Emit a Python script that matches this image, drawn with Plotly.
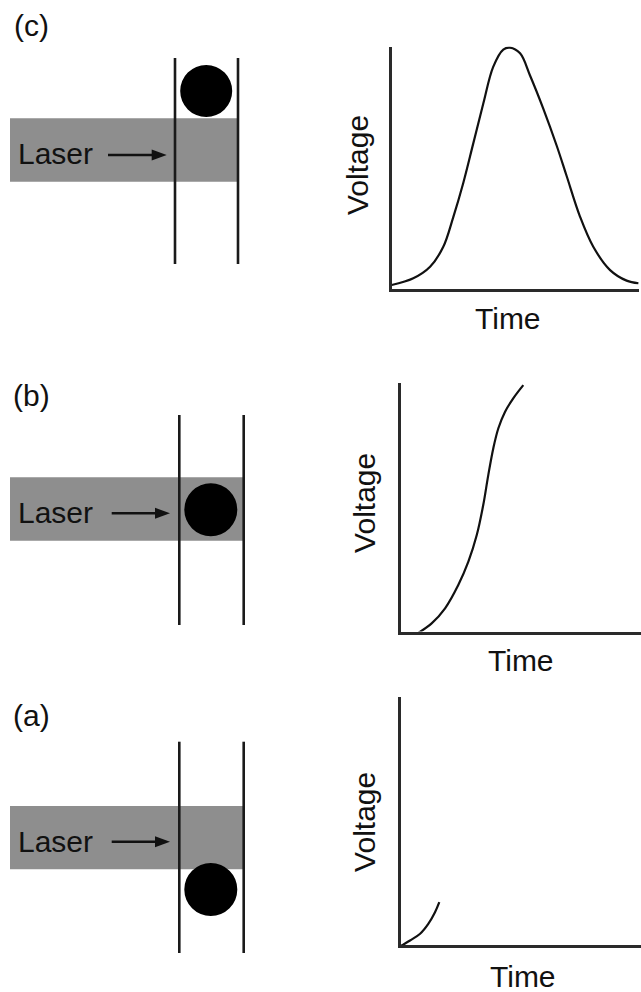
import plotly.graph_objects as go

# ---------------- data ----------------
panel_labels = ["(c)", "(b)", "(a)"]
axis_x_label = "Time"
axis_y_label = "Voltage"
beam_label = "Laser"

# (c) full pulse
c_time = [0.07, 0.97, 1.67, 2.22, 2.64, 3.05, 3.47, 3.89, 4.30, 4.72, 5.00,
          5.42, 5.83, 6.39, 6.95, 7.36, 7.92, 8.47, 9.17, 9.86, 10.35]
c_volt = [0.21, 0.49, 0.97, 1.80, 3.05, 4.45, 6.11, 7.78, 9.30, 10.02, 10.10,
          9.86, 8.95, 7.55, 6.00, 4.75, 3.05, 1.80, 0.83, 0.39, 0.28]
# (b) rising edge
b_time = [0.80, 1.36, 1.92, 2.47, 2.89, 3.24, 3.51, 3.72, 3.93, 4.14, 4.42, 4.76, 5.18]
b_volt = [0.00, 0.40, 1.03, 2.00, 2.97, 4.08, 5.33, 6.58, 7.70, 8.53, 9.22, 9.78, 10.33]
# (a) onset
a_time = [0.05, 0.11, 0.46, 0.88, 1.22, 1.50, 1.68]
a_volt = [0.00, 0.04, 0.25, 0.53, 0.94, 1.43, 1.85]

# ---------------- layout geometry (pixels) ----------------
W, H = 641, 992
UNIT = 24.0  # pixels per data unit
AXW = 3

def px(x):
    return x / W

def py(y):
    return 1 - y / H

charts = [
    dict(left=390, right=639, bottom=290, top=46.5, t=c_time, v=c_volt),
    dict(left=399, right=641, bottom=633, top=383, t=b_time, v=b_volt),
    dict(left=399, right=641, bottom=946.5, top=697, t=a_time, v=a_volt),
]

diagrams = [
    dict(label_xy=(31, 25.5), band=(10, 237, 118.3, 181.7), lines=(175, 238), line_y=(58, 264),
         ball=(206.2, 91, 26), text_y=153.3, arrow=(108, 166.7, 155),
         vlab=(358, 165), tlab=(508.3, 318.8)),
    dict(label_xy=(31, 395), band=(10, 243, 477.3, 540.7), lines=(179.3, 243.7), line_y=(415, 625),
         ball=(210.8, 509.7, 26.5), text_y=512.5, arrow=(111.7, 170, 513.3),
         vlab=(364.4, 502.5), tlab=(520.7, 660)),
    dict(label_xy=(31, 715.5), band=(10, 243, 806, 869.3), lines=(179.3, 243.7), line_y=(741.7, 953),
         ball=(210.8, 889.5, 26.5), text_y=841.3, arrow=(111.7, 170, 841.7),
         vlab=(364.4, 821.5), tlab=(522.5, 976.5)),
]

FONT = "Liberation Sans, Arial, Helvetica, sans-serif"
INK = "#111111"
BAND = "#8e8e8e"

fig = go.Figure()
layout = dict(width=W, height=H, margin=dict(l=0, r=0, t=0, b=0),
              paper_bgcolor="white", plot_bgcolor="rgba(0,0,0,0)", showlegend=False)

shapes = []
annotations = []

for i, (ch, dg, lab) in enumerate(zip(charts, diagrams, panel_labels)):
    n = i + 1
    xa = "xaxis" if n == 1 else f"xaxis{n}"
    ya = "yaxis" if n == 1 else f"yaxis{n}"
    xr = "x" if n == 1 else f"x{n}"
    yr = "y" if n == 1 else f"y{n}"
    off = AXW / 2
    layout[xa] = dict(domain=[px(ch["left"] + off), px(ch["right"])],
                      range=[off / UNIT, (ch["right"] - ch["left"]) / UNIT],
                      anchor=yr, showline=True, linewidth=AXW, linecolor="#2a2a2a",
                      showgrid=False, zeroline=False, showticklabels=False, ticks="")
    layout[ya] = dict(domain=[py(ch["bottom"] - off), py(ch["top"])],
                      range=[off / UNIT, (ch["bottom"] - ch["top"]) / UNIT],
                      anchor=xr, showline=True, linewidth=AXW, linecolor="#2a2a2a",
                      showgrid=False, zeroline=False, showticklabels=False, ticks="")
    fig.add_trace(go.Scatter(x=ch["t"], y=ch["v"], mode="lines", xaxis=xr, yaxis=yr,
                             line=dict(color=INK, width=2.2, shape="spline", smoothing=1.0),
                             hoverinfo="skip"))

    # laser band
    bx0, bx1, by0, by1 = dg["band"]
    shapes.append(dict(type="rect", xref="paper", yref="paper",
                       x0=px(bx0), x1=px(bx1), y0=py(by1), y1=py(by0),
                       fillcolor=BAND, line=dict(width=0), layer="above"))
    # channel walls
    for lx in dg["lines"]:
        shapes.append(dict(type="line", xref="paper", yref="paper",
                           x0=px(lx), x1=px(lx), y0=py(dg["line_y"][0]), y1=py(dg["line_y"][1]),
                           line=dict(color="#1a1a1a", width=2.6), layer="above"))
    # particle
    cx, cy, r = dg["ball"]
    shapes.append(dict(type="circle", xref="paper", yref="paper",
                       x0=px(cx - r), x1=px(cx + r), y0=py(cy + r), y1=py(cy - r),
                       fillcolor="#000000", line=dict(width=0), layer="above"))
    # arrow
    ax0, ax1, ay = dg["arrow"]
    shapes.append(dict(type="line", xref="paper", yref="paper",
                       x0=px(ax0), x1=px(ax1 - 12), y0=py(ay), y1=py(ay),
                       line=dict(color="#111111", width=2.6), layer="above"))
    tri = (f"M {px(ax1 - 15)},{py(ay - 5.5)} L {px(ax1)},{py(ay)} "
           f"L {px(ax1 - 15)},{py(ay + 5.5)} Z")
    shapes.append(dict(type="path", xref="paper", yref="paper", path=tri,
                       fillcolor="#111111", line=dict(width=0), layer="above"))

    # texts
    annotations.append(dict(text=lab, x=px(dg["label_xy"][0]), y=py(dg["label_xy"][1]),
                            xref="paper", yref="paper", showarrow=False,
                            xanchor="center", yanchor="middle",
                            font=dict(family=FONT, size=30, color=INK)))
    annotations.append(dict(text=beam_label, x=px(15.5), y=py(dg["text_y"]),
                            xref="paper", yref="paper", showarrow=False,
                            xanchor="left", yanchor="middle",
                            font=dict(family=FONT, size=30, color=INK)))
    annotations.append(dict(text=axis_y_label, x=px(dg["vlab"][0]), y=py(dg["vlab"][1]),
                            xref="paper", yref="paper", showarrow=False, textangle=-90,
                            xanchor="center", yanchor="middle",
                            font=dict(family=FONT, size=30, color=INK)))
    annotations.append(dict(text=axis_x_label, x=px(dg["tlab"][0]), y=py(dg["tlab"][1]),
                            xref="paper", yref="paper", showarrow=False,
                            xanchor="center", yanchor="middle",
                            font=dict(family=FONT, size=30, color=INK)))

layout["shapes"] = shapes
layout["annotations"] = annotations
fig.update_layout(**layout)
fig.write_html("out.html",
               config={"displayModeBar": False, "staticPlot": True},
               post_script="document.body.style.margin='0px';document.body.style.overflow='hidden';")
